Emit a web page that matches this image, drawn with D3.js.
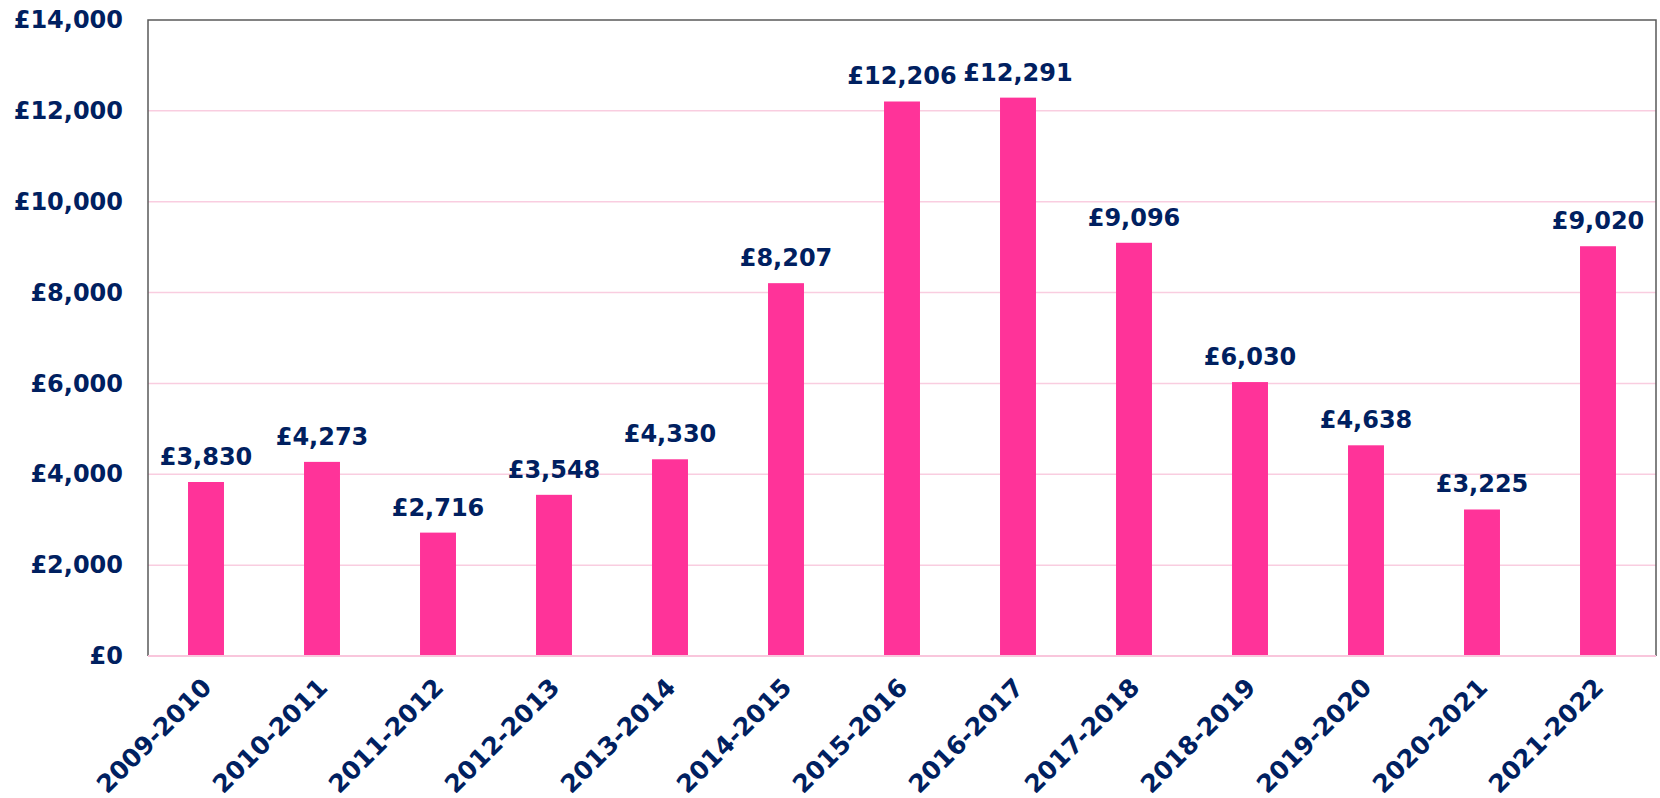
<!DOCTYPE html>
<html>
<head>
<meta charset="utf-8">
<script src="https://cdn.jsdelivr.net/npm/d3@7"></script>
<style>
  body { margin: 0; background: #fff; }
  text { font-family: "DejaVu Sans", Verdana, sans-serif; font-weight: bold; fill: #002060; }
</style>
</head>
<body>
<div id="chart"></div>
<script>
var years = ["2009-2010", "2010-2011", "2011-2012", "2012-2013", "2013-2014", "2014-2015",
             "2015-2016", "2016-2017", "2017-2018", "2018-2019", "2019-2020", "2020-2021", "2021-2022"];
var amounts = [3830, 4273, 2716, 3548, 4330, 8207, 12206, 12291, 9096, 6030, 4638, 3225, 9020];
var yTicks = [0, 2000, 4000, 6000, 8000, 10000, 12000, 14000];

var margin = {top: 20, right: 4, bottom: 142, left: 148},
    width = 1660 - margin.left - margin.right,
    height = 798 - margin.top - margin.bottom;

var fmt = function (v) { return "£" + d3.format(",")(v); };

var svg = d3.select("#chart")
    .append("svg")
    .attr("width", width + margin.left + margin.right)
    .attr("height", height + margin.top + margin.bottom)
    .append("g")
    .attr("transform", "translate(" + margin.left + "," + margin.top + ")");

var x = d3.scaleBand()
    .range([0, width])
    .domain(years)
    .paddingInner(0.69)
    .paddingOuter(0.345);

var y = d3.scaleLinear()
    .domain([0, 14000])
    .range([height, 0]);

// gridlines
svg.selectAll("line.grid")
    .data(yTicks.slice(1, -1))
    .enter()
    .append("line")
    .attr("x1", 0)
    .attr("x2", width)
    .attr("y1", function (d) { return y(d); })
    .attr("y2", function (d) { return y(d); })
    .attr("stroke", "#F9CDE0")
    .attr("stroke-width", 1.5);

// plot frame: grey on top/left/right, pink baseline
svg.append("path")
    .attr("d", "M0," + height + "V0H" + width + "V" + height)
    .attr("fill", "none")
    .attr("stroke", "#595959")
    .attr("stroke-width", 1.5);

svg.selectAll("rect.bar")
    .data(amounts)
    .enter()
    .append("rect")
    .attr("class", "bar")
    .attr("x", function (d, i) { return x(years[i]); })
    .attr("y", function (d) { return y(d); })
    .attr("width", x.bandwidth())
    .attr("height", function (d) { return height - y(d); })
    .attr("fill", "#FF3399");

svg.append("line")
    .attr("x1", 0)
    .attr("x2", width)
    .attr("y1", height)
    .attr("y2", height)
    .attr("stroke", "#F9C6DC")
    .attr("stroke-width", 2);

// y axis labels
var yAxis = d3.axisLeft(y).tickValues(yTicks).tickFormat(fmt).tickSize(0).tickPadding(25);
var gy = svg.append("g").call(yAxis);
gy.select(".domain").remove();
gy.selectAll("text")
    .style("font-size", "24px")
    .attr("fill", "#002060");

// x axis labels
var xAxis = d3.axisBottom(x).tickSize(0).tickPadding(0);
var gx = svg.append("g")
    .attr("transform", "translate(0," + height + ")")
    .call(xAxis);
gx.select(".domain").remove();
gx.selectAll("text")
    .style("font-size", "25px")
    .attr("fill", "#002060")
    .style("text-anchor", "end")
    .attr("dy", "0")
    .attr("y", 0)
    .attr("transform", "translate(7,33) rotate(-45)");

// value labels
svg.selectAll("text.val")
    .data(amounts)
    .enter()
    .append("text")
    .attr("class", "val")
    .attr("x", function (d, i) { return x(years[i]) + x.bandwidth() / 2; })
    .attr("y", function (d) { return y(d) - 17; })
    .attr("text-anchor", "middle")
    .style("font-size", "24px")
    .text(fmt);
</script>
</body>
</html>
